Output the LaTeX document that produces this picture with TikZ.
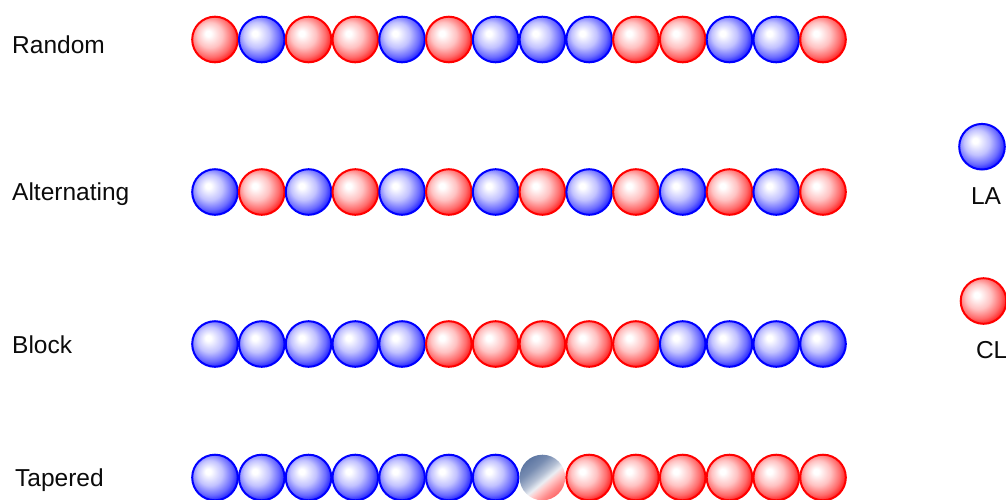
\documentclass[tikz,border=0pt]{standalone}
\usepackage{fontspec}
\setmainfont{Liberation Sans}
\definecolor{cla}{HTML}{0000FF}
\definecolor{ccl}{HTML}{FF0000}
\definecolor{cmix}{HTML}{56709E}
\definecolor{cink}{HTML}{0B0B0B}
% soft balls, light spot at the upper left (the path fits the middle 50bp)
\pgfdeclareradialshading{laball}{\pgfpoint{-8bp}{7bp}}{color(0bp)=(white); color(3bp)=(white); color(14bp)=(cla!24!white); color(23bp)=(cla!58!white); color(31bp)=(cla); color(50bp)=(cla)}
\pgfdeclareradialshading{clball}{\pgfpoint{-8bp}{7bp}}{color(0bp)=(white); color(3bp)=(white); color(14bp)=(ccl!24!white); color(23bp)=(ccl!58!white); color(31bp)=(ccl); color(50bp)=(ccl)}
\pgfdeclarehorizontalshading{mixball}{100bp}{color(0bp)=(cmix); color(22bp)=(cmix); color(36bp)=(cmix!80!white); color(47bp)=(cmix!45!white); color(54bp)=(cmix!12!white); color(59bp)=(ccl!20!white); color(68bp)=(ccl!45!white); color(80bp)=(ccl!70!white); color(100bp)=(ccl!70!white)}

\begin{document}
\begin{tikzpicture}[x=1pt, y=-1pt, font=\fontsize{24.5}{29}\selectfont, text=cink,
  ballb/.style={shading=laball, draw=cla, line width=2pt},
  ballr/.style={shading=clball, draw=ccl, line width=2pt},
  ballm/.style={shading=mixball, shading angle=-50}]
\useasboundingbox (0,0) rectangle (1006,499);
%% ------------------------------------------------------------------ names
\node[anchor=base west, inner sep=0pt] (random) at (12,53.3) {Random};
\node[anchor=base west, inner sep=0pt] (alternating) at (12,200.5) {Alternating};
\node[anchor=base west, inner sep=0pt] (block) at (12,353.3) {Block};
\node[anchor=base west, inner sep=0pt] (tapered) at (15,486.7) {Tapered};
%% ------------------------------------------------------------------ chains
\foreach \yy/\seq in {39.5/{r,b,r,r,b,r,b,b,b,r,r,b,b,r},
                      192/{b,r,b,r,b,r,b,r,b,r,b,r,b,r},
                      344/{b,b,b,b,b,r,r,r,r,r,b,b,b,b},
                      477.5/{b,b,b,b,b,b,b,m,r,r,r,r,r,r}}
  \foreach \c [count=\i from 0] in \seq
    \shade[ball\c] ({215+46.77*\i},\yy) circle (22.8pt);
%% ------------------------------------------------------------------ legend
\shade[ballb] (982,146.7) circle (22.8pt);
\node (la) at (986,196) {LA};
\shade[ballr] (983.5,301) circle (22.8pt);
\node (cl) at (991.7,350) {CL};
\end{tikzpicture}
\end{document}
